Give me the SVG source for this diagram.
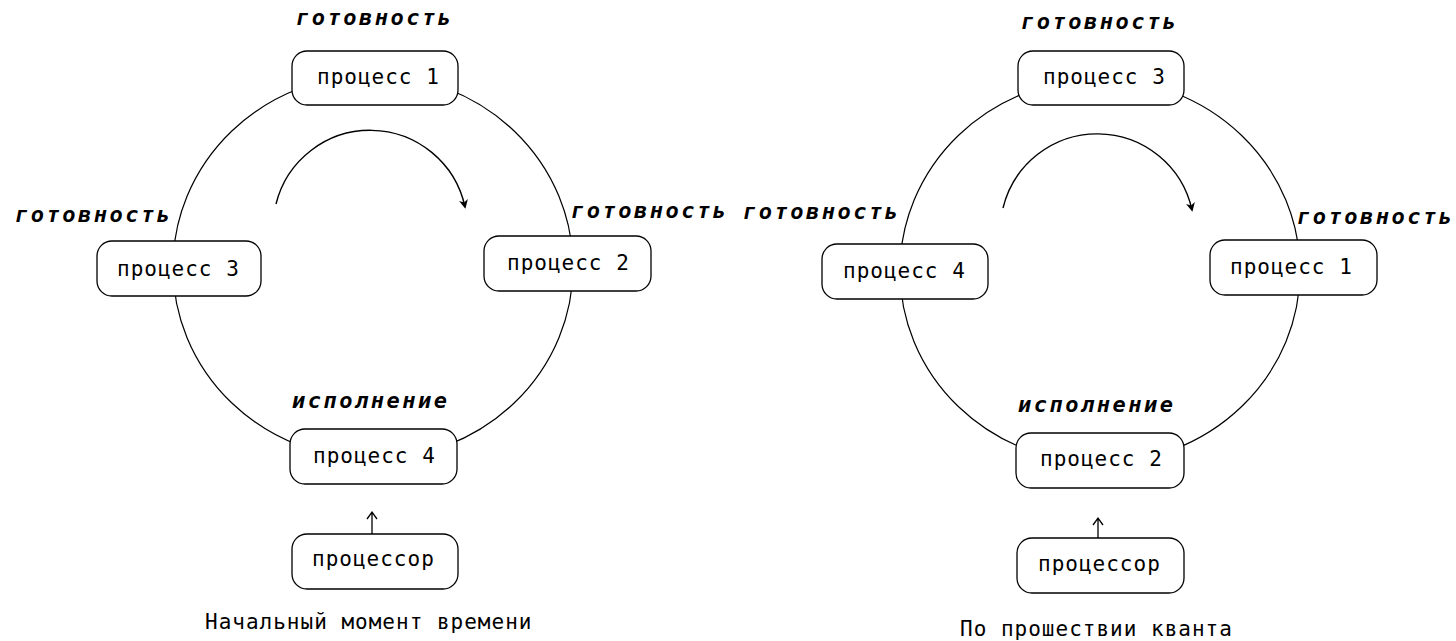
<svg xmlns="http://www.w3.org/2000/svg" width="1456" height="641" viewBox="0 0 1456 641">
<style>
.ring{fill:none;stroke:#000;stroke-width:1.2}
.box{fill:#fff;stroke:#000;stroke-width:1.3}
.t{font-family:"DejaVu Sans Mono","Liberation Mono",monospace;font-size:21px;letter-spacing:1px;fill:#000}
.lbl{font-family:"DejaVu Sans Mono","Liberation Mono",monospace;font-size:22px;font-weight:bold;font-style:italic;letter-spacing:2.5px;fill:#000}
.arc{fill:none;stroke:#000;stroke-width:1.4}
.up{fill:none;stroke:#000;stroke-width:1.3}
</style>
<defs>
<marker id="ah" viewBox="0 0 10 10" refX="8" refY="5" markerWidth="9" markerHeight="9" orient="auto" markerUnits="userSpaceOnUse">
<path d="M0,0 L10,5 L0,10 L3,5 z" fill="#000"/>
</marker>
</defs>
<rect width="1456" height="641" fill="#fff"/>
<g id="connectors">
<ellipse class="ring" cx="373" cy="267" rx="200" ry="192"/>
<ellipse class="ring" cx="1100" cy="271" rx="200" ry="192"/>
<path class="arc" d="M276,204 A97,97 0 0 1 465,207" marker-end="url(#ah)"/>
<path class="arc" d="M1003,208 A97,97 0 0 1 1192,210" marker-end="url(#ah)"/>
<path class="up" d="M372,534 V512 M367,519 L372,512 L377,519"/>
<path class="up" d="M1098,538 V518 M1093,525 L1098,518 L1103,525"/>
</g>
<g id="left-p1">
<text class="lbl" x="296" y="25">готовность</text>
<rect class="box" x="292" y="51" width="166" height="54" rx="15"/>
<text class="t" x="317" y="84">процесс 1</text>
</g>
<g id="left-p3">
<text class="lbl" x="15" y="222">готовность</text>
<rect class="box" x="97" y="241" width="164" height="55" rx="15"/>
<text class="t" x="117" y="276">процесс 3</text>
</g>
<g id="left-p2">
<text class="lbl" x="571" y="218">готовность</text>
<rect class="box" x="484" y="236" width="167" height="55" rx="15"/>
<text class="t" x="507" y="270">процесс 2</text>
</g>
<g id="left-p4">
<text class="lbl" x="292" y="408">исполнение</text>
<rect class="box" x="290" y="429" width="167" height="55" rx="15"/>
<text class="t" x="313" y="463">процесс 4</text>
</g>
<g id="left-cpu">
<rect class="box" x="292" y="534" width="166" height="55" rx="15"/>
<text class="t" x="312" y="566">процессор</text>
</g>
<text class="t" x="205" y="629">Начальный момент времени</text>
<g id="right-p3">
<text class="lbl" x="1021" y="29">готовность</text>
<rect class="box" x="1018" y="51" width="166" height="54" rx="15"/>
<text class="t" x="1043" y="84">процесс 3</text>
</g>
<g id="right-p4">
<text class="lbl" x="743" y="219">готовность</text>
<rect class="box" x="822" y="244" width="166" height="55" rx="15"/>
<text class="t" x="843" y="278">процесс 4</text>
</g>
<g id="right-p1">
<text class="lbl" x="1297" y="224">готовность</text>
<rect class="box" x="1210" y="240" width="167" height="55" rx="15"/>
<text class="t" x="1230" y="274">процесс 1</text>
</g>
<g id="right-p2">
<text class="lbl" x="1018" y="412">исполнение</text>
<rect class="box" x="1016" y="433" width="168" height="55" rx="15"/>
<text class="t" x="1040" y="466">процесс 2</text>
</g>
<g id="right-cpu">
<rect class="box" x="1017" y="538" width="167" height="55" rx="15"/>
<text class="t" x="1038" y="571">процессор</text>
</g>
<text class="t" x="960" y="636">По прошествии кванта</text>
</svg>
